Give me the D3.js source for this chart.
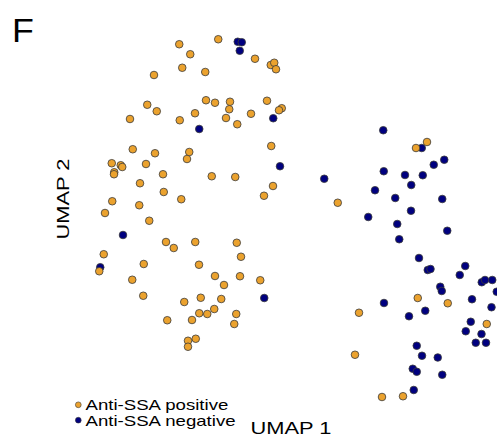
<!DOCTYPE html>
<html>
<head>
<meta charset="utf-8">
<script src="https://cdn.jsdelivr.net/npm/d3@7"></script>
<style>
  html, body { margin: 0; padding: 0; background: #fff; }
  svg { display: block; }
  text { font-family: "Liberation Sans", Arial, Helvetica, sans-serif; fill: #000; }
</style>
</head>
<body>
<script>
// ---- data (UMAP coordinates) ----
const groups = ["Anti-SSA positive", "Anti-SSA negative"];
const groupColors = ["#EBA22E", "#00007F"];

const positiveU1 = [-4.63,-3.07,-4.19,-1.60,-0.97,-0.83,-0.76,-4.51,-3.59,-5.64,-5.91,-5.53,-3.56,-3.20,-2.60,-2.63,-1.12,-0.53,-0.64,-4.00,-1.76,-6.60,-4.61,-2.76,-2.31,-6.49,-5.60,-4.23,-4.32,-0.95,-7.33,-6.97,-6.91,-5.96,-7.23,-7.24,-5.28,-3.33,-2.39,-6.20,-0.88,-1.24,-5.25,-4.55,-7.31,-6.23,-7.60,-5.83,-5.16,-4.85,-3.99,-2.33,-2.16,-7.65,-7.83,-6.05,-3.84,-6.51,-3.20,-2.20,-2.84,-1.39,-6.07,-4.43,-3.77,-2.95,-3.23,-3.83,-3.51,-2.35,-2.43,-5.11,-4.12,-3.97,-4.28,-4.28,5.28,4.84,1.71,4.91,6.11,2.56,7.67,2.40,3.48,4.32];
const positiveU2 = [7.03,7.23,6.63,6.45,6.20,6.29,6.03,6.09,5.92,5.80,4.61,4.35,4.79,4.69,4.73,4.43,4.77,4.47,4.39,4.27,4.25,4.04,3.99,4.08,3.83,2.83,2.67,2.72,2.44,2.96,2.27,2.19,2.12,2.24,1.91,1.83,1.83,1.75,1.72,1.47,1.36,0.97,1.12,0.83,0.75,0.59,0.28,-0.03,-0.88,-1.12,-0.88,-0.91,-1.47,-1.37,-2.05,-1.76,-1.79,-2.39,-2.24,-2.25,-2.60,-2.41,-3.03,-3.28,-3.11,-3.16,-3.56,-3.73,-3.76,-3.76,-4.16,-4.01,-4.00,-4.75,-4.83,-5.07,3.12,2.88,0.69,-3.12,-3.33,-3.71,-4.16,-5.39,-7.08,-7.05];

const negativeU1 = [-2.29,-2.13,-2.21,-0.87,-3.83,-0.60,-6.88,-7.79,-1.23,3.53,5.07,5.97,5.55,3.55,4.40,5.11,4.65,1.17,3.20,4.01,5.89,4.64,2.93,4.09,6.09,4.17,4.96,5.31,5.42,6.81,6.59,7.47,7.60,7.89,8.07,5.81,5.87,3.56,7.08,7.86,5.21,4.56,7.03,6.83,7.46,7.23,7.64,4.87,5.08,5.71,4.71,4.87,5.89,4.75];
const negativeU2 = [7.13,7.11,6.77,4.07,3.64,2.15,-0.60,-1.89,-3.12,3.59,2.88,2.41,2.21,1.95,1.80,1.79,1.40,1.65,1.19,0.88,0.84,0.37,0.12,-0.16,-0.43,-0.77,-1.52,-2.00,-1.96,-1.84,-2.20,-2.49,-2.40,-2.40,-2.87,-2.67,-2.84,-3.32,-3.17,-3.49,-3.63,-3.85,-4.07,-4.45,-4.56,-4.91,-4.91,-5.03,-5.43,-5.50,-5.95,-6.07,-6.19,-6.80];

const axisTitles = ["UMAP 1", "UMAP 2"];
const panelLabel = "F";

// ---- chart ----
const W = 497, H = 437;
const svg = d3.select("body").append("svg").attr("width", W).attr("height", H);

const x = d3.scaleLinear().domain([-8, 8]).range([95, 495]);
const y = d3.scaleLinear().domain([-8, 8]).range([420, 20]);
const color = d3.scaleOrdinal().domain(groups).range(groupColors);

const negPts = negativeU1.map((v, i) => ({u1: v, u2: negativeU2[i], g: groups[1]}));
const posPts = positiveU1.map((v, i) => ({u1: v, u2: positiveU2[i], g: groups[0]}));
const pts = negPts.concat(posPts);

svg.append("g").selectAll("circle").data(pts).join("circle")
  .attr("cx", d => x(d.u1))
  .attr("cy", d => y(d.u2))
  .attr("r", 3.8)
  .attr("fill", d => color(d.g))
  .attr("stroke", "#3a3a3a")
  .attr("stroke-width", 0.8);

// panel label
svg.append("text")
  .attr("transform", "translate(12,41.7) scale(1.1,1)")
  .attr("font-size", 32.5)
  .text(panelLabel);

// axis titles
svg.append("text")
  .attr("transform", "translate(291,433.5) scale(1.3,1)")
  .attr("text-anchor", "middle")
  .attr("font-size", 16.8)
  .text(axisTitles[0]);

svg.append("text")
  .attr("transform", "translate(69.3,199) rotate(-90) scale(1.3,1)")
  .attr("text-anchor", "middle")
  .attr("font-size", 16.8)
  .text(axisTitles[1]);

// legend
const leg = svg.append("g").selectAll("g").data(groups).join("g")
  .attr("transform", (d, i) => `translate(0,${i * 15.4})`);
leg.append("circle")
  .attr("cx", 78.3).attr("cy", 404.8).attr("r", 2.9)
  .attr("fill", d => color(d))
  .attr("stroke", "#3a3a3a").attr("stroke-width", 0.6);
leg.append("text")
  .attr("transform", "translate(85.5,410.3) scale(1.33,1)")
  .attr("font-size", 14)
  .text(d => d);
</script>
</body>
</html>
